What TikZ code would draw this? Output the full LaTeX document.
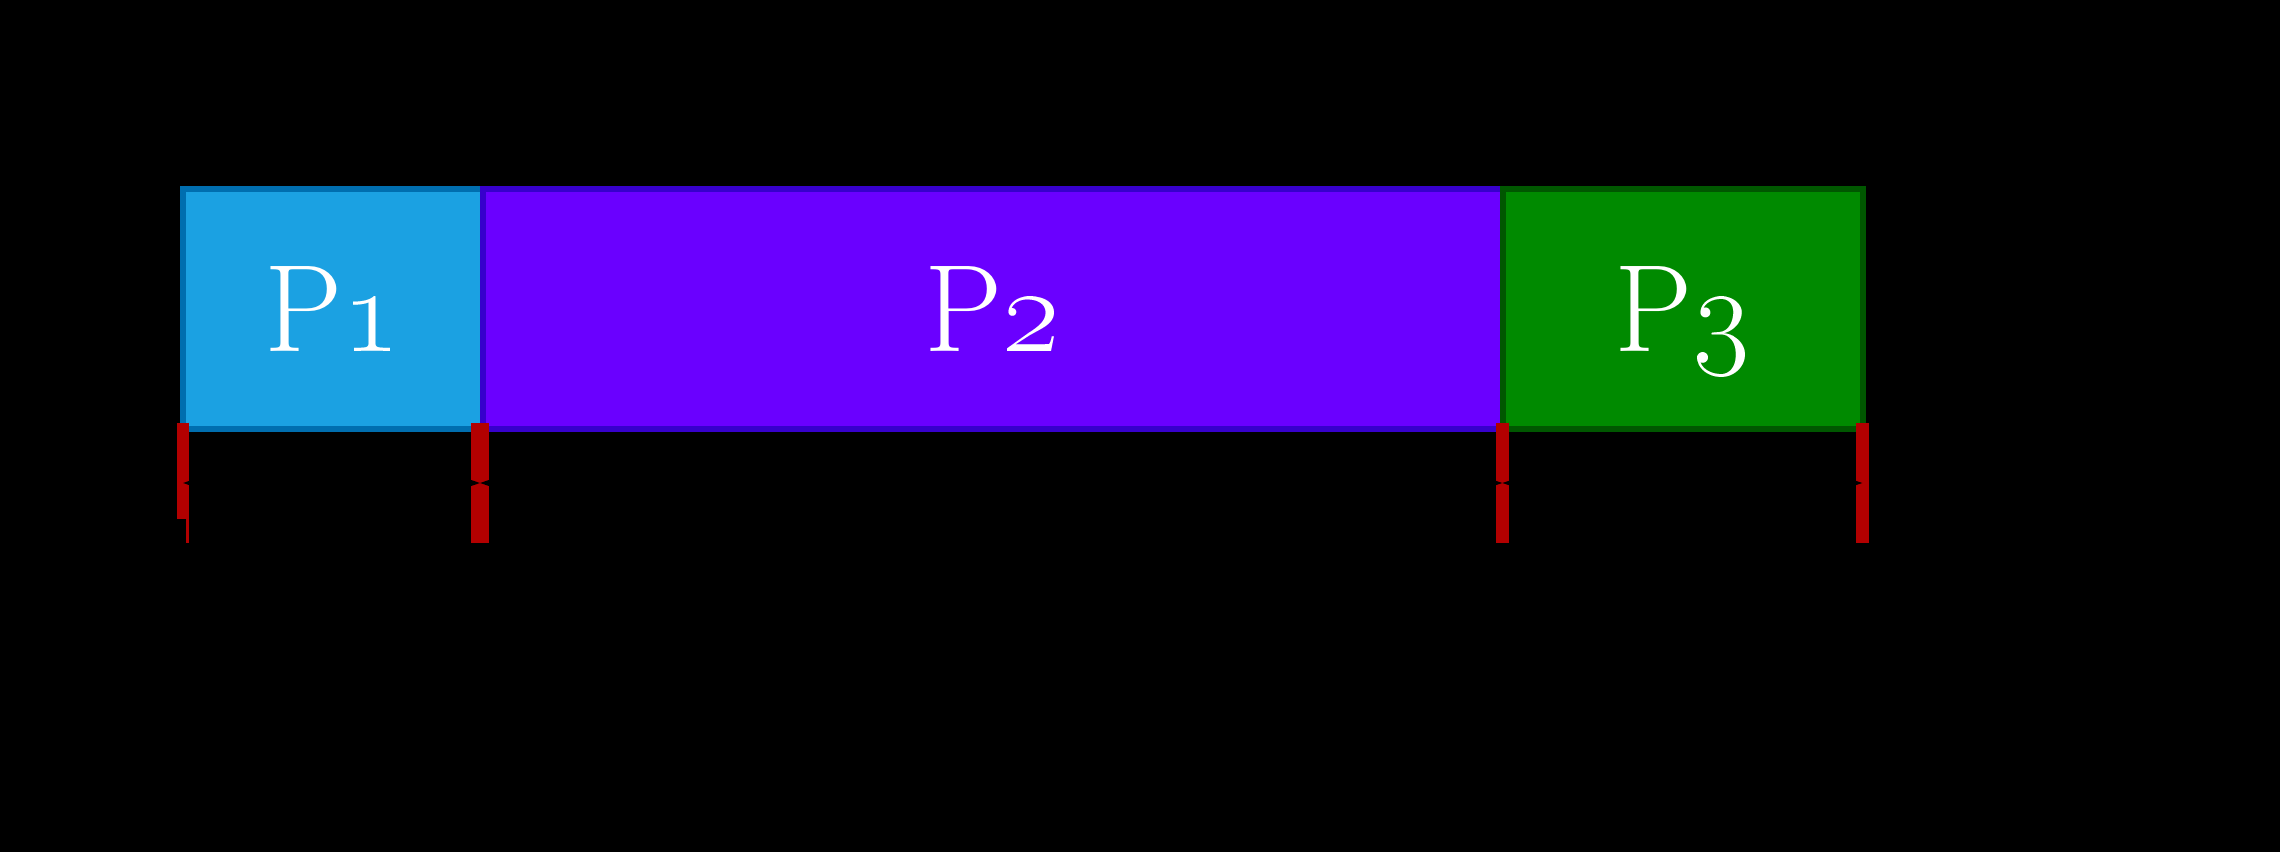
\RequirePackage{fix-cm}
\documentclass[tikz,border=0pt]{standalone}
\usetikzlibrary{positioning,arrows.meta}
\definecolor{pOneFill}{HTML}{1BA1E2}
\definecolor{pOneLine}{HTML}{006EAF}
\definecolor{pTwoFill}{HTML}{6A00FF}
\definecolor{pTwoLine}{HTML}{3700CC}
\definecolor{pThreeFill}{HTML}{008A00}
\definecolor{pThreeLine}{HTML}{005700}
\definecolor{tickred}{HTML}{B20000}

\begin{document}
\begin{tikzpicture}[
    proc/.style={draw, line width=0.1cm, minimum height=4cm, inner sep=0pt, outer sep=0pt,
      text depth=0pt, text=white, font=\fontsize{59}{60}\selectfont},
    tickmark/.style={draw=tickred, line width=0.2cm},
    dimline/.style={black, line width=0.04cm,
      {Stealth[length=0.3cm,width=0.2cm]}-{Stealth[length=0.3cm,width=0.2cm]}}
  ]
  \fill[black] (0,0) rectangle (38,14.2);
  \useasboundingbox (0,0) rectangle (38,14.2);
  % bursts
  \node[proc, fill=pOneFill, draw=pOneLine, minimum width=5cm] (p1) at (5.55,9.05) {P\oldstylenums{1}};
  \node[proc, fill=pTwoFill, draw=pTwoLine, minimum width=17cm, right=0pt of p1] (p2) {P\oldstylenums{2}};
  \node[proc, fill=pThreeFill, draw=pThreeLine, minimum width=6cm, right=0pt of p2] (p3) {P\oldstylenums{3}};
  % time marks
  \coordinate (t1) at (3.05,6.15);
  \coordinate (t2) at (8.0,6.15);
  \coordinate (t3) at (25.04,6.15);
  \coordinate (t4) at (31.04,6.15);
  \draw[tickmark] ([yshift=1cm]t1) -- ([yshift=-0.6cm]t1);
  \draw[tickmark, line width=0.05cm] ([xshift=0.075cm,yshift=1cm]t1) -- ([xshift=0.075cm,yshift=-1cm]t1);
  \draw[tickmark, line width=0.3cm] ([yshift=1cm]t2) -- ([yshift=-1cm]t2);
  \foreach \t in {t3,t4}
    \draw[tickmark, line width=0.21cm] ([yshift=1cm]\t) -- ([yshift=-1cm]\t);
  \draw[dimline] (t1) -- (t2);
  \draw[dimline] (t2) -- (t3);
  \draw[dimline] (t3) -- (t4);
\end{tikzpicture}
\end{document}
